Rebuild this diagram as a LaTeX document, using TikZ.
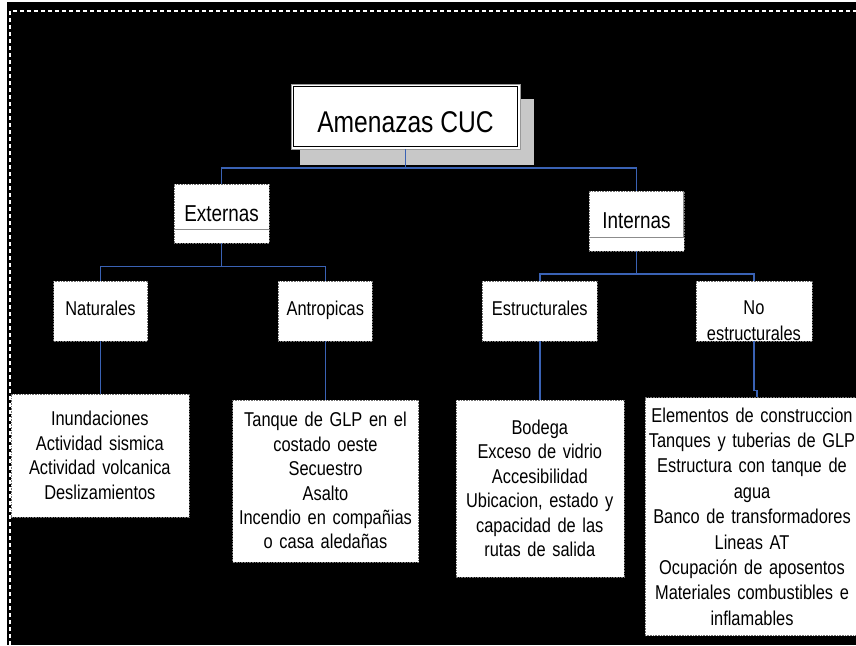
\documentclass[tikz,border=0pt]{standalone}
\usepackage{fontspec}
\setmainfont[FakeStretch=0.82]{Liberation Sans}
\usetikzlibrary{shadows}
\definecolor{linkblue}{RGB}{58,98,180}
\definecolor{shadowgray}{RGB}{200,200,200}

\begin{document}
\begin{tikzpicture}[x=1pt, y=-1pt,
    headbox/.style={fill=white, draw=black!40, line width=0.6pt, inner sep=0pt,
        drop shadow={shadow xshift=11.5pt, shadow yshift=-15pt, shadow scale=1.02,
            fill=shadowgray, opacity=1}},
    groupbox/.style={fill=white, draw=black!55, densely dotted, line width=0.6pt,
        inner sep=0pt, align=center, font=\fontsize{23}{27}\selectfont},
    kindbox/.style={fill=white, draw=black!55, densely dotted, line width=0.6pt,
        inner sep=0pt, align=center, font=\fontsize{20}{24.4}\selectfont},
    kindlabel/.style={kindbox, text height=14.6pt, text depth=6.6pt},
    listbox/.style={kindbox, text width=#1},
    link/.style={linkblue, line width=1.6pt},
    innerrule/.style={black!45, line width=0.8pt}]
        % Background and frame
        \useasboundingbox (0,0) rectangle (856,645);
        \fill [white] (0,0) rectangle (856,645);
        \fill [black] (7,2) rectangle (856,645);
        \draw [white, line width=1.2pt, dash pattern=on 4pt off 3pt] (10,645) -- (10,11) -- (856,11);
        % Top box
        \node [headbox, minimum width=229pt, minimum height=65pt, text height=32.5pt, text depth=0pt,
            font=\fontsize{30}{34}\selectfont] (top) at (405.5,116.5) {Amenazas CUC};
        \draw [black, line width=0.7pt] ([shift={(2.5pt,2.5pt)}]top.south west) rectangle ([shift={(-2.5pt,-2.5pt)}]top.north east);
        % Groups
        \node [groupbox, minimum width=95pt, minimum height=59pt] (ext) at (221.5,213.5) {Externas};
        \node [groupbox, minimum width=95pt, minimum height=60pt] (int) at (636.5,221) {Internas};
        \draw [innerrule] ([yshift=14pt]ext.south west) -- ([yshift=14pt]ext.south east);
        \draw [innerrule] ([yshift=14pt]int.south west) -- ([shift={(-1pt,14pt)}]int.south east) -- ([xshift=-1pt]int.north east);
        % Kinds
        \node [kindlabel, minimum width=94pt, minimum height=60pt] (nat) at (100.5,311) {Naturales};
        \node [kindlabel, minimum width=94pt, minimum height=60pt] (ant) at (325.3,311) {Antropicas};
        \node [kindlabel, minimum width=115pt, minimum height=60pt] (est) at (539.8,311) {Estructurales};
        \node [kindbox, minimum width=116pt, minimum height=60pt, text width=110pt, text height=33.7pt,
            font=\fontsize{20}{26}\selectfont] (noest) at (753.9,311) {No\\estructurales};
        % Lists
        \node [listbox=172pt, minimum width=178pt, minimum height=123pt] (inun) at (99.85,455.3)
            {Inundaciones\\Actividad sismica\\Actividad volcanica\\Deslizamientos};
        \node [listbox=182pt, minimum width=186pt, minimum height=162pt] (tanq) at (325.5,480.8)
            {Tanque de GLP en el\\costado oeste\\Secuestro\\Asalto\\Incendio en compañias\\o casa aledañas};
        \node [listbox=162pt, minimum width=168pt, minimum height=177pt] (bod) at (539.8,488.3)
            {Bodega\\Exceso de vidrio\\Accesibilidad\\Ubicacion, estado y\\capacidad de las\\rutas de salida};
        \node [listbox=210pt, minimum width=214pt, minimum height=238pt,
            font=\fontsize{20}{25.4}\selectfont] (elem) at (752,516.5)
            {Elementos de construccion\\Tanques y tuberias de GLP\\Estructura con tanque de\\agua\\Banco de transformadores\\Lineas AT\\Ocupación de aposentos\\Materiales combustibles e\\inflamables};
        % Connectors
        \draw [link] (top.south) -- ++(0,18.5) coordinate (topbus) -| (ext.north);
        \draw [link] (topbus) -| (int.north);
        \draw [link] (ext.south) -- ++(0,23) coordinate (extbus) -| (nat.north);
        \draw [link] (extbus) -| (ant.north);
        \draw [link] (int.south) -- ++(0,22.6) coordinate (intbus) -| (est.north);
        \draw [link] (intbus) -| (noest.north);
        \draw [link] (nat.south) -- (nat.south |- inun.north);
        \draw [link] (ant.south) -- (ant.south |- tanq.north);
        \draw [link] (est.south) -- (est.south |- bod.north);
        \draw [link] (noest.south) -- ++(0,49) -- ++(3,0) coordinate (jog) -- (jog |- elem.north);
    \end{tikzpicture}
\end{document}
